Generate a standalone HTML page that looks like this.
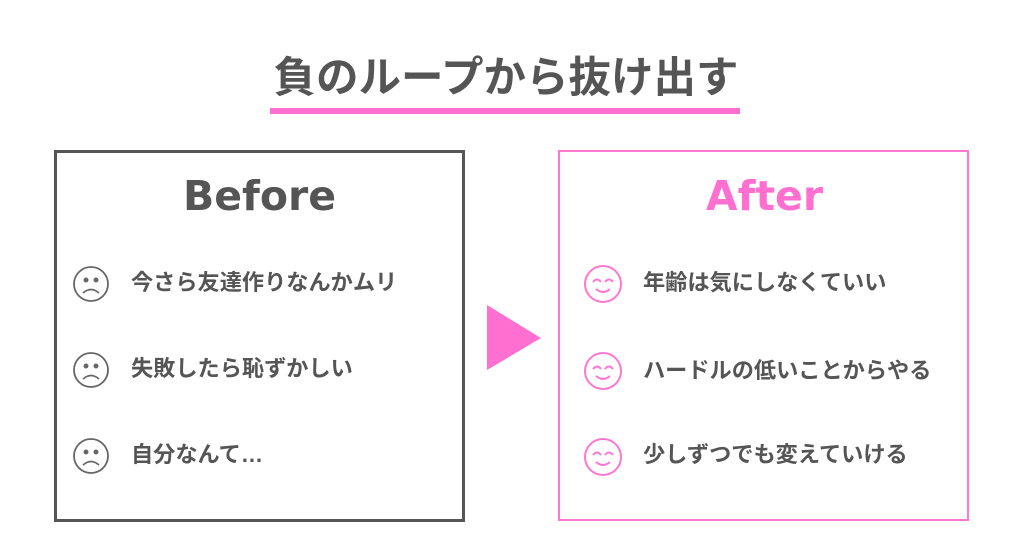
<!DOCTYPE html>
<html><head><meta charset="utf-8"><style>
body{margin:0;width:1024px;height:558px;background:#fff;position:relative;overflow:hidden;font-family:"Liberation Sans","Noto Sans CJK JP",sans-serif;font-weight:bold;color:#555}
.a{position:absolute}
.t{position:absolute;font-size:22.2px;white-space:nowrap;line-height:26px}
</style></head><body>
<div class="a" style="left:0;width:1012px;top:50px;text-align:center;font-size:42.5px;line-height:58px;color:#555">負のループから抜け出す</div>
<div class="a" style="left:270px;top:108px;width:470px;height:6px;background:#ff6fd0"></div>
<div class="a" style="left:54px;top:150px;width:405px;height:366px;border:3px solid #555"></div>
<div class="a" style="left:558px;top:150px;width:407px;height:367px;border:2px solid #ff77d0"></div>
<div class="a" style="left:54px;width:411px;top:170px;text-align:center;font-size:41px;line-height:52px;font-family:'DejaVu Sans',sans-serif;color:#555">Before</div>
<div class="a" style="left:559px;width:411px;top:170px;text-align:center;font-size:41px;line-height:52px;font-family:'DejaVu Sans',sans-serif;color:#ff6fd0">After</div>
<svg class="a" style="left:0;top:0" width="1024" height="558">
<polygon points="487,305 487,370 541,338" fill="#ff6fd0"/>
<g fill="none" stroke="#666" stroke-width="1.8">
<g transform="translate(91,284)"><circle r="17"/><path d="M-8,9 Q0,2 8,9"/><circle cx="-5" cy="-4" r="1.6" fill="#666"/><circle cx="5" cy="-4" r="1.6" fill="#666"/></g>
<g transform="translate(91,370)"><circle r="17"/><path d="M-8,9 Q0,2 8,9"/><circle cx="-5" cy="-4" r="1.6" fill="#666"/><circle cx="5" cy="-4" r="1.6" fill="#666"/></g>
<g transform="translate(91,456)"><circle r="17"/><path d="M-8,9 Q0,2 8,9"/><circle cx="-5" cy="-4" r="1.6" fill="#666"/><circle cx="5" cy="-4" r="1.6" fill="#666"/></g>
</g>
<g fill="none" stroke="#ff77d0" stroke-width="2">
<g transform="translate(603,284)"><circle r="18"/><path d="M-7,5 Q0,11 7,5"/><path d="M-10,-2 Q-6,-7 -2,-2"/><path d="M2,-2 Q6,-7 10,-2"/></g>
<g transform="translate(603,371)"><circle r="18"/><path d="M-7,5 Q0,11 7,5"/><path d="M-10,-2 Q-6,-7 -2,-2"/><path d="M2,-2 Q6,-7 10,-2"/></g>
<g transform="translate(603,457)"><circle r="18"/><path d="M-7,5 Q0,11 7,5"/><path d="M-10,-2 Q-6,-7 -2,-2"/><path d="M2,-2 Q6,-7 10,-2"/></g>
</g>
</svg>
<div class="t" style="left:131px;top:270px">今さら友達作りなんかムリ</div>
<div class="t" style="left:131px;top:356px">失敗したら恥ずかしい</div>
<div class="t" style="left:131px;top:442px">自分なんて…</div>
<div class="t" style="left:643px;top:270px">年齢は気にしなくていい</div>
<div class="t" style="left:643px;top:358px">ハードルの低いことからやる</div>
<div class="t" style="left:643px;top:442px">少しずつでも変えていける</div>
</body></html>
